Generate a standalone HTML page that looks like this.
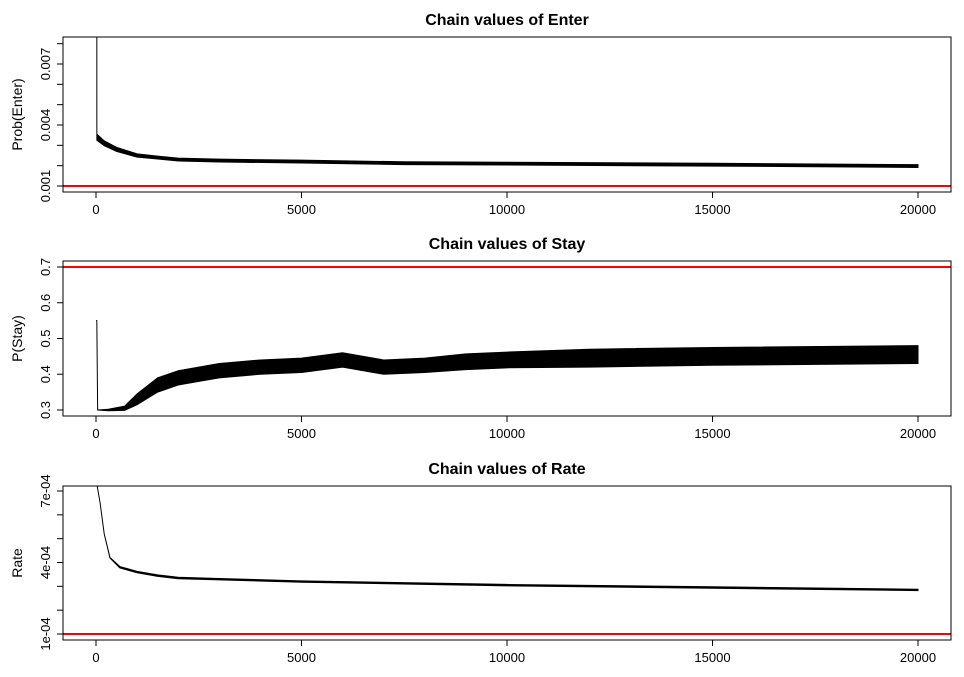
<!DOCTYPE html>
<html><head><meta charset="utf-8"><style>
body{margin:0;background:#fff;font-family:"Liberation Sans",sans-serif}
svg text{font-family:"Liberation Sans",sans-serif}
</style></head><body>
<svg id="c" width="964" height="672" xmlns="http://www.w3.org/2000/svg"></svg>
<script>
const xTicks=[0,5000,10000,15000,20000];
// Enter
const enterIter=[0,20,21,200,500,1000,1500,2000,3000,5000,7500,10000,15000,20000];
const enterVal=[0.0095,0.0095,0.0034,0.0031,0.0028,0.0025,0.0024,0.0023,0.00225,0.0022,0.00212,0.0021,0.00205,0.00198];
const enterSpread=[0,0,0.00015,0.00012,0.0001,0.00008,0.00007,0.00007,0.00007,0.00007,0.00007,0.00007,0.00007,0.00007];
const enterTicks=[0.001,0.004,0.007];
const enterTickLabels=["0.001","0.004","0.007"];
const enterMinor=[0.001,0.002,0.003,0.004,0.005,0.006,0.007,0.008];
// Stay
const stayIter=[0,20,40,300,700,1000,1500,2000,3000,4000,5000,6000,7000,8000,9000,10000,12000,15000,20000];
const stayVal=[0.55,0.55,0.30,0.30,0.305,0.33,0.37,0.39,0.41,0.42,0.425,0.44,0.42,0.425,0.435,0.44,0.445,0.45,0.455];
const staySpread=[0,0,0,0.002,0.006,0.015,0.02,0.02,0.02,0.02,0.02,0.02,0.02,0.02,0.022,0.022,0.025,0.025,0.025];
const stayTicks=[0.3,0.4,0.5,0.6,0.7];
const stayTickLabels=["0.3","0.4","0.5","0.6","0.7"];
// Rate
const rateIter=[0,100,200,340,580,1000,1500,2000,3000,5000,10000,15000,20000];
const rateVal=[7.5e-4,6.5e-4,5.2e-4,4.2e-4,3.8e-4,3.6e-4,3.45e-4,3.35e-4,3.3e-4,3.2e-4,3.05e-4,2.95e-4,2.85e-4];
const rateSpread=[0,0,0,0.01e-4,0.03e-4,0.03e-4,0.03e-4,0.03e-4,0.03e-4,0.03e-4,0.03e-4,0.03e-4,0.03e-4];
const rateTicks=[1e-4,4e-4,7e-4];
const rateTickLabels=["1e-04","4e-04","7e-04"];
const rateMinor=[1e-4,2e-4,3e-4,4e-4,5e-4,6e-4,7e-4];

const NS="http://www.w3.org/2000/svg",svg=document.getElementById('c');
function el(t,a,p){const e=document.createElementNS(NS,t);for(const k in a)e.setAttribute(k,a[k]);(p||svg).appendChild(e);return e;}
const X=v=>96+v/20000*822;
function panel(o){
  const g=el('g',{});
  
  
  const Y=v=>o.y0+(v-o.v0)/(o.v1-o.v0)*(o.y1-o.y0);
  const t=el('text',{x:507,y:o.top-12,'text-anchor':'middle','font-size':16,'font-weight':'bold'},g);t.textContent=o.title;
  
  const cp='cp'+o.top;const cl=el('clipPath',{id:cp},g);el('rect',{x:63,y:o.top,width:888,height:o.bot-o.top},cl);
  let up=[],lo=[];
  o.it.forEach((it,i)=>{up.push(X(it)+','+Y(o.val[i]+o.sp[i]));lo.unshift(X(it)+','+Y(o.val[i]-o.sp[i]));});
  const band=el('polygon',{points:up.concat(lo).join(' '),fill:'#000',stroke:'#000','stroke-width':1,'clip-path':`url(#${cp})`},g);
  
  const rl=el('line',{x1:63,x2:951,y1:Y(o.red),y2:Y(o.red),stroke:'#f00','stroke-width':2},g);
  
  el('rect',{x:63,y:o.top,width:888,height:o.bot-o.top,fill:'none',stroke:'#000'},g);
  xTicks.forEach(v=>{el('line',{x1:X(v),x2:X(v),y1:o.bot,y2:o.bot+6,stroke:'#000'},g);
    const tx=el('text',{x:X(v),y:o.bot+22,'text-anchor':'middle','font-size':13},g);tx.textContent=v;});
  o.minor.forEach(v=>el('line',{x1:57,x2:63,y1:Y(v),y2:Y(v),stroke:'#000'},g));
  o.ticks.forEach((v,i)=>{const ty=el('text',{x:50,y:Y(v),'text-anchor':'middle','font-size':13,transform:`rotate(-90 50 ${Y(v)})`},g);ty.textContent=o.labels[i];});
  const cy=(o.top+o.bot)/2;
  const yl=el('text',{x:22,y:cy,'text-anchor':'middle','font-size':14,transform:`rotate(-90 22 ${cy})`},g);yl.textContent=o.ylab;
  
}
panel({name:'enter-panel',title:'Chain values of Enter',ylab:'Prob(Enter)',top:37,bot:192,v0:0.001,v1:0.007,y0:186,y1:64,it:enterIter,val:enterVal,sp:enterSpread,ticks:enterTicks,labels:enterTickLabels,minor:enterMinor,red:0.001});
panel({name:'stay-panel',title:'Chain values of Stay',ylab:'P(Stay)',top:261,bot:416,v0:0.3,v1:0.7,y0:410,y1:267,it:stayIter,val:stayVal,sp:staySpread,ticks:stayTicks,labels:stayTickLabels,minor:stayTicks,red:0.7});
panel({name:'rate-panel',title:'Chain values of Rate',ylab:'Rate',top:486,bot:640,v0:1e-4,v1:7e-4,y0:634,y1:491,it:rateIter,val:rateVal,sp:rateSpread,ticks:rateTicks,labels:rateTickLabels,minor:rateMinor,red:1e-4});
</script>
</body></html>
